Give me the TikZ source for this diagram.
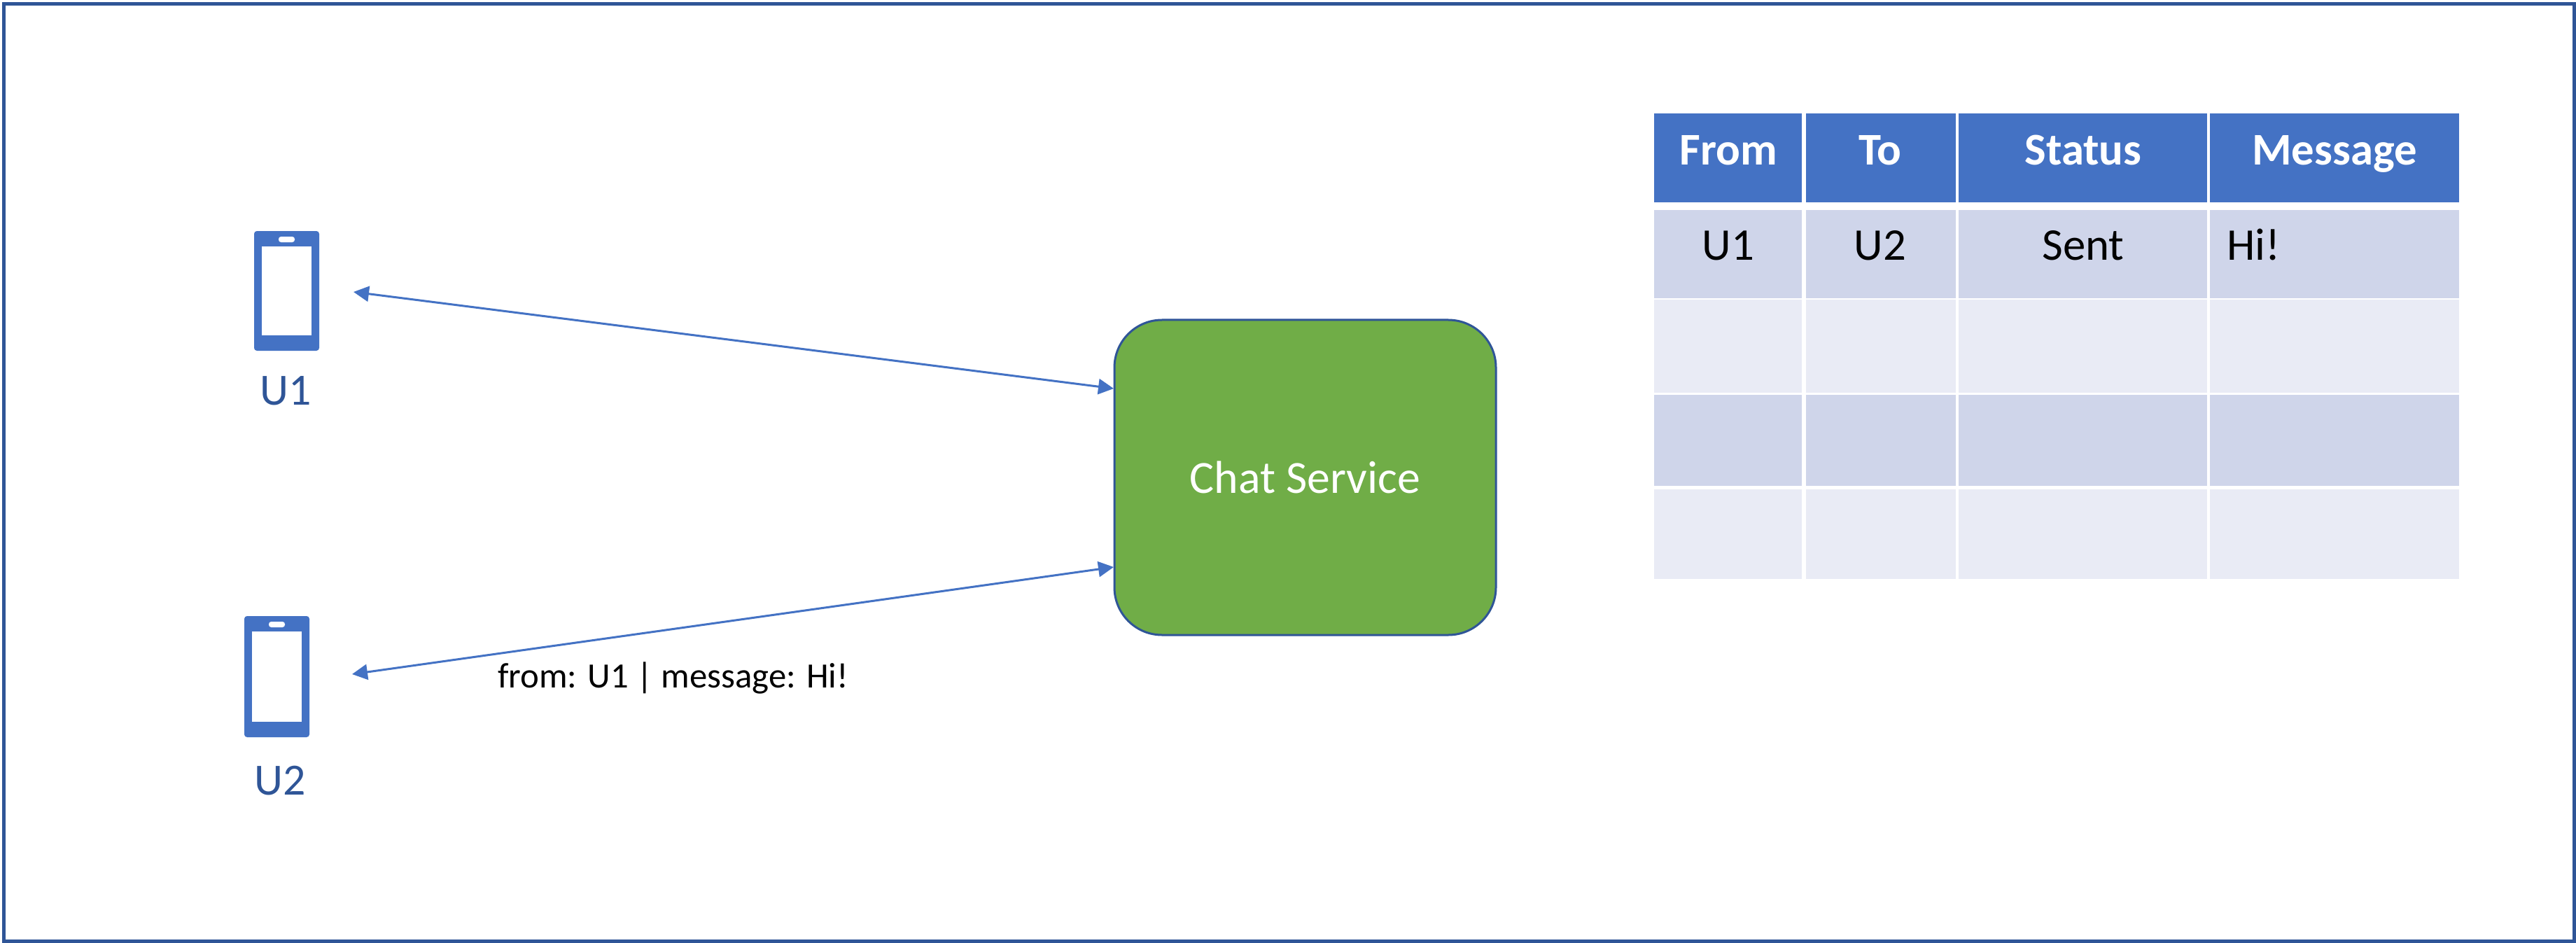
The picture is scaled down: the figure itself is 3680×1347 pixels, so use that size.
\documentclass[tikz,border=0pt]{standalone}
\usepackage{fontspec}
\setmainfont{Carlito}
\usetikzlibrary{arrows.meta}
\definecolor{accentblue}{HTML}{4472C4}
\definecolor{edgeblue}{HTML}{2F5597}
\definecolor{rowdark}{HTML}{CFD5EA}
\definecolor{rowlight}{HTML}{E9EBF5}
\definecolor{chatgreen}{HTML}{70AD47}
\tikzset{
  x=1bp,y=-1bp,
  frame/.style={draw=edgeblue,line width=5bp,fill=white},
  celltext/.style={inner sep=0pt,anchor=base,font=\fontsize{65}{65}\selectfont,text=black},
  headtext/.style={inner sep=0pt,anchor=base,font=\fontsize{65}{65}\selectfont\bfseries,text=white},
  devlabel/.style={inner sep=0pt,anchor=base,font=\fontsize{64}{64}\selectfont,text=edgeblue},
  service/.style={draw=edgeblue,line width=3bp,fill=chatgreen,rounded corners=68bp,
    minimum width=545bp,minimum height=450bp,inner sep=0pt,text=white,
    font=\fontsize{66}{66}\selectfont},
  link/.style={draw=accentblue,line width=3bp,{Triangle[length=22bp,width=22bp]}-{Triangle[length=22bp,width=22bp]}},
}
\newcommand{\phoneicon}[3]{%
  \fill[accentblue,rounded corners=4bp] (#1,#2) rectangle ++(93,#3);
  \fill[white] (#1+11,#2+22) rectangle (#1+82,#2+#3-22);
  \fill[white,rounded corners=3.5bp] (#1+35,#2+8) rectangle ++(23,8);
}
\begin{document}
\begin{tikzpicture}
\useasboundingbox (0,0) rectangle (3680,1347);
\draw[frame] (5.5,5.5) rectangle (3677.5,1344.5);
% phones
\phoneicon{363}{330}{171}
\phoneicon{349}{880}{173}
\node[devlabel] (u1) at (408,578) {U1};
\node[devlabel] (u2) at (400,1135) {U2};
\coordinate (p1) at (505,417);
\coordinate (p2) at (503,963);
% service
\node[service] (svc) at (1864.5,682) {Chat Service};
\coordinate (s1) at (1591,555);
\coordinate (s2) at (1591,810);
\draw[link] (p1) -- (s1);
\draw[link] (p2) -- (s2);
\node[inner sep=0pt,anchor=base west,font=\fontsize{51}{51}\selectfont,text=black] (msg) at (711,982) {from: U1 | message: Hi!};
% table
\foreach \ya/\yb/\c in {162/289/accentblue,300/426/rowdark,428/561/rowlight,564/694/rowdark,699/827/rowlight}{
  \fill[\c] (2363,\ya) rectangle (2574,\yb);
  \fill[\c] (2580,\ya) rectangle (2794,\yb);
  \fill[\c] (2798,\ya) rectangle (3153,\yb);
  \fill[\c] (3157,\ya) rectangle (3513,\yb);
}
\node[headtext] (h1) at (2469,236) {From};
\node[headtext] (h2) at (2686,236) {To};
\node[headtext] (h3) at (2976,236) {Status};
\node[headtext] (h4) at (3335,236) {Message};
\node[celltext] (c1) at (2469,371) {U1};
\node[celltext] (c2) at (2686,371) {U2};
\node[celltext] (c3) at (2976,371) {Sent};
\node[celltext,anchor=base west] (c4) at (3181,371) {Hi!};
\end{tikzpicture}
\end{document}
